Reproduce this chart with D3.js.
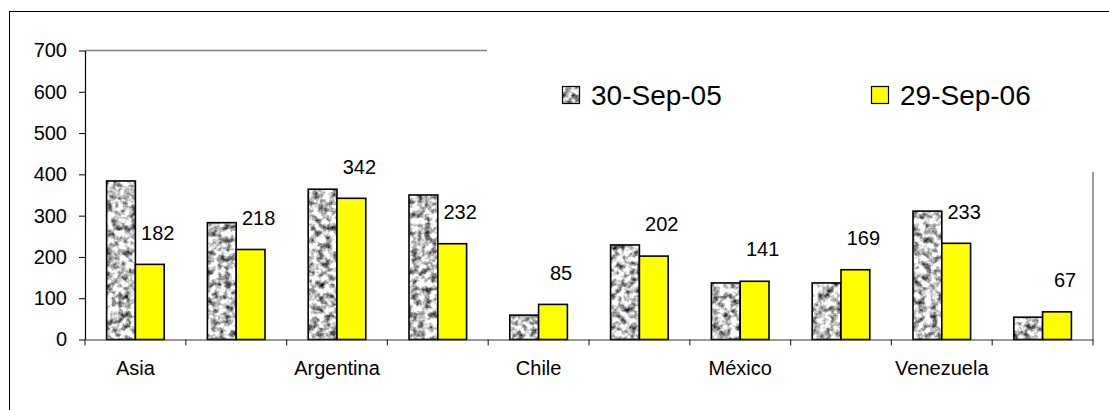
<!DOCTYPE html>
<html>
<head>
<meta charset="utf-8">
<script src="https://cdn.jsdelivr.net/npm/d3@7"></script>
<style>
  html, body { margin: 0; padding: 0; background: #fff; }
  svg { display: block; font-family: "Liberation Sans", Arial, sans-serif; }
</style>
</head>
<body>
<svg id="chart" width="1109" height="410"></svg>
<script>
// ---- data ----
const categories = ["Asia", "América Latina", "Argentina", "Brasil", "Chile", "Colombia", "México", "Perú", "Venezuela", "Otros"];
const shownLabels = ["Asia", "Argentina", "Chile", "México", "Venezuela"];
const seriesNames = ["30-Sep-05", "29-Sep-06"];
const values2005 = [384, 283, 364, 350, 59, 229, 137, 137, 311, 54];
const values2006 = [182, 218, 342, 232, 85, 202, 141, 169, 233, 67];
const yTicks = [0, 100, 200, 300, 400, 500, 600, 700];

// ---- layout ----
const W = 1109, H = 410;
const plot = { left: 85, right: 1093, top: 50.5, bottom: 339.5 };
const svg = d3.select("#chart");

const defs = svg.append("defs");
const filt = defs.append("filter").attr("id", "graniteNoise")
  .attr("x", 0).attr("y", 0).attr("width", "100%").attr("height", "100%")
  .attr("color-interpolation-filters", "sRGB");
filt.append("feTurbulence").attr("type", "fractalNoise")
  .attr("baseFrequency", 0.16).attr("numOctaves", 3).attr("seed", 11).attr("result", "t");
filt.append("feColorMatrix").attr("in", "t").attr("type", "matrix")
  .attr("values", "1.9 0 0 0 -0.18  1.9 0 0 0 -0.18  1.9 0 0 0 -0.18  0 0 0 0 1");
const pat = defs.append("pattern").attr("id", "granite")
  .attr("patternUnits", "userSpaceOnUse").attr("width", 1109).attr("height", 410);
pat.append("rect").attr("width", 1109).attr("height", 410).attr("fill", "#aaa")
  .attr("filter", "url(#graniteNoise)");

// outer chart border
svg.append("rect").attr("x", 9.5).attr("y", 11.5)
  .attr("width", W + 20).attr("height", H + 20)
  .attr("fill", "#fff").attr("stroke", "#000").attr("stroke-width", 1);

// scales
const x = d3.scaleBand().domain(categories).range([plot.left, plot.right]).paddingInner(0).paddingOuter(0);
const y = d3.scaleLinear().domain([0, 700]).range([plot.bottom, plot.top]);
const bw = x.bandwidth();
const barW = bw / 3.5;
const inner = d3.scaleBand().domain(seriesNames).range([(bw - 2 * barW) / 2, (bw + 2 * barW) / 2]);

// plot frame (gray) - top gridline and right edge
svg.append("path")
  .attr("d", `M${plot.left},${plot.top}H${plot.right}V${plot.bottom}`)
  .attr("fill", "none").attr("stroke", "#808080").attr("stroke-width", 1.5);

// bars
const rows = categories.map((c, i) => ({ cat: c, v: [values2005[i], values2006[i]] }));
const fills = ["url(#granite)", "#FFFF00"];
const g = svg.append("g");
rows.forEach(r => {
  seriesNames.forEach((s, si) => {
    g.append("rect")
      .attr("x", x(r.cat) + inner(s))
      .attr("y", y(r.v[si]))
      .attr("width", inner.bandwidth())
      .attr("height", y(0) - y(r.v[si]))
      .attr("fill", fills[si])
      .attr("stroke", "#000").attr("stroke-width", 1.6);
  });
});

// legend background (covers frame like in the reference)
const legendBox = { x0: 487, y0: 30, x1: 1100, y1: 172 };
svg.append("rect").attr("x", legendBox.x0).attr("y", legendBox.y0)
  .attr("width", legendBox.x1 - legendBox.x0).attr("height", legendBox.y1 - legendBox.y0)
  .attr("fill", "#fff");

// legend
const legendX = [562, 871];
seriesNames.forEach((s, i) => {
  svg.append("rect").attr("x", legendX[i] + 0.5).attr("y", 86.5).attr("width", 17).attr("height", 17)
    .attr("fill", fills[i]).attr("stroke", "#000").attr("stroke-width", 1.2);
  svg.append("text").attr("x", legendX[i] + 29).attr("y", 95)
    .attr("dy", "0.36em").attr("font-size", 28).attr("fill", "#000").text(s);
});

// y axis
const yAxis = svg.append("g").attr("transform", `translate(${plot.left},0)`)
  .call(d3.axisLeft(y).tickValues(yTicks).tickSize(6).tickSizeOuter(0).tickPadding(12));
yAxis.select(".domain").attr("stroke", "#000").attr("stroke-width", 1.2);
yAxis.selectAll(".tick line").attr("stroke", "#000");
yAxis.selectAll("text").attr("font-size", 20).attr("font-family", "Liberation Sans, Arial, sans-serif").attr("fill", "#000");

// x axis line and boundary ticks
const xAxis = svg.append("g").attr("transform", `translate(0,${plot.bottom})`)
  .call(d3.axisBottom(x).tickValues(shownLabels).tickSize(0).tickPadding(21.5));
xAxis.select(".domain").attr("stroke", "#333").attr("stroke-width", 1.2);
xAxis.selectAll("text").attr("font-size", 20).attr("font-family", "Liberation Sans, Arial, sans-serif").attr("fill", "#000");
const bounds = categories.map(c => x(c)).concat([x(categories[categories.length - 1]) + bw]);
xAxis.selectAll(".bound").data(bounds).join("line").attr("class", "bound")
  .attr("x1", d => d).attr("x2", d => d).attr("y1", 0).attr("y2", 6)
  .attr("stroke", "#333").attr("stroke-width", 1.2);

// value labels (second series)
svg.append("g").selectAll("text").data(rows).join("text")
  .attr("x", d => x(d.cat) + inner(seriesNames[1]) + inner.bandwidth() / 2 + 8)
  .attr("y", d => y(d.v[1]) - 32)
  .attr("dy", "0.36em")
  .attr("text-anchor", "middle").attr("font-size", 20).attr("fill", "#000")
  .text(d => d.v[1]);
</script>
</body>
</html>
